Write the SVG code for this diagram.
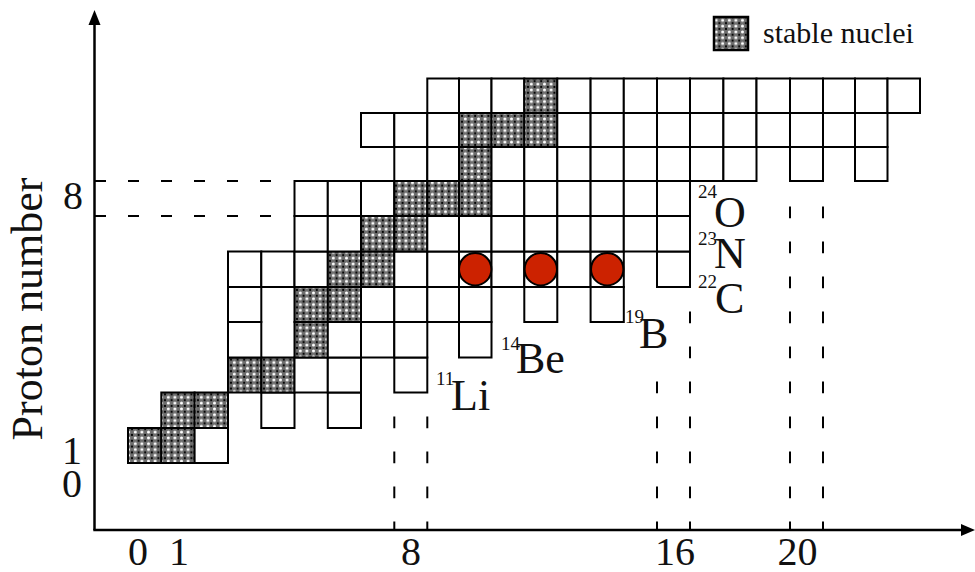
<svg xmlns="http://www.w3.org/2000/svg" width="975" height="572" viewBox="0 0 975 572">
<defs>
<pattern id="dots" patternUnits="userSpaceOnUse" width="6.6" height="5.8">
<rect width="6.6" height="5.8" fill="#6e6e6e"/>
<circle cx="3.3" cy="2.9" r="1.5" fill="#fff"/>
<circle cx="0" cy="0" r="1.1" fill="#000"/>
<circle cx="6.6" cy="0" r="1.1" fill="#000"/>
<circle cx="0" cy="5.8" r="1.1" fill="#000"/>
<circle cx="6.6" cy="5.8" r="1.1" fill="#000"/>
</pattern>
</defs>
<style>
.c{fill:#fff;stroke:#000;stroke-width:2}
.s{fill:url(#dots);stroke:#000;stroke-width:2}
.ax{stroke:#000;stroke-width:2.5;fill:none}
.hd{stroke:#000;stroke-width:2;fill:none;stroke-dasharray:11 22}
.vd{stroke:#000;stroke-width:2;fill:none;stroke-dasharray:11.7 23.3;stroke-dashoffset:3.3}
.dot{fill:#cc2200;stroke:#000;stroke-width:2}
text{font-family:"Liberation Serif","Times New Roman",serif;fill:#111}
.num{font-size:40px;text-anchor:middle}
.sym{font-size:44px}
.sup{font-size:19px}
</style>
<rect width="975" height="572" fill="#fff"/>

<g id="connectors">
<path class="ax" d="M94.5 530 V22"/>
<polygon points="94.5,10 88.5,25 100.5,25" fill="#000"/>
<path class="ax" d="M93.3 530 H964"/>
<polygon points="975,530 961,524 961,536" fill="#000"/>
<path class="hd" d="M95 181 H272"/>
<path class="hd" d="M95 216 H272"/>
<path class="vd" d="M394.3 530 V416.5"/>
<path class="vd" d="M427.3 530 V416.5"/>
<path class="vd" d="M657 530 V381.5"/>
<path class="vd" d="M690 530 V311.5"/>
<path class="vd" d="M790 530 V206.5"/>
<path class="vd" d="M823 530 V206.5"/>
</g>

<g id="row-Z1">
<rect class="s" x="128" y="428" width="33.3" height="35"/>
<rect class="s" x="161.3" y="428" width="33.3" height="35"/>
<rect class="c" x="194.6" y="428" width="33.4" height="35"/>
</g>
<g id="row-Z2">
<rect class="s" x="161.3" y="392.5" width="33.3" height="35.5"/>
<rect class="s" x="194.6" y="392.5" width="33.4" height="35.5"/>
<rect class="c" x="261.3" y="392.5" width="33.2" height="35.5"/>
<rect class="c" x="327.8" y="392.5" width="33.2" height="35.5"/>
</g>
<g id="row-Z3">
<rect class="s" x="228" y="357.5" width="33.3" height="35"/>
<rect class="s" x="261.3" y="357.5" width="33.2" height="35"/>
<rect class="c" x="294.5" y="357.5" width="33.3" height="35"/>
<rect class="c" x="327.8" y="357.5" width="33.2" height="35"/>
<rect class="c" x="394.3" y="357.5" width="33" height="35"/>
</g>
<g id="row-Z4">
<rect class="c" x="228" y="322" width="33.3" height="35.5"/>
<rect class="s" x="294.5" y="322" width="33.3" height="35.5"/>
<rect class="c" x="327.8" y="322" width="33.2" height="35.5"/>
<rect class="c" x="361" y="322" width="33.3" height="35.5"/>
<rect class="c" x="394.3" y="322" width="33" height="35.5"/>
<rect class="c" x="459" y="322" width="32.5" height="35.5"/>
</g>
<g id="row-Z5">
<rect class="c" x="228" y="287" width="33.3" height="35"/>
<rect class="s" x="294.5" y="287" width="33.3" height="35"/>
<rect class="s" x="327.8" y="287" width="33.2" height="35"/>
<rect class="c" x="361" y="287" width="33.3" height="35"/>
<rect class="c" x="394.3" y="287" width="33" height="35"/>
<rect class="c" x="427.3" y="287" width="31.7" height="35"/>
<rect class="c" x="459" y="287" width="32.5" height="35"/>
<rect class="c" x="524.3" y="287" width="33" height="35"/>
<rect class="c" x="590.6" y="287" width="33.2" height="35"/>
</g>
<g id="row-Z6">
<rect class="c" x="228" y="251.5" width="33.3" height="35.5"/>
<rect class="c" x="261.3" y="251.5" width="33.2" height="35.5"/>
<rect class="c" x="294.5" y="251.5" width="33.3" height="35.5"/>
<rect class="s" x="327.8" y="251.5" width="33.2" height="35.5"/>
<rect class="s" x="361" y="251.5" width="33.3" height="35.5"/>
<rect class="c" x="394.3" y="251.5" width="33" height="35.5"/>
<rect class="c" x="427.3" y="251.5" width="31.7" height="35.5"/>
<rect class="c" x="459" y="251.5" width="32.5" height="35.5"/>
<rect class="c" x="491.5" y="251.5" width="32.8" height="35.5"/>
<rect class="c" x="524.3" y="251.5" width="33" height="35.5"/>
<rect class="c" x="557.3" y="251.5" width="33.3" height="35.5"/>
<rect class="c" x="590.6" y="251.5" width="33.2" height="35.5"/>
<rect class="c" x="657" y="251.5" width="33" height="35.5"/>
</g>
<g id="row-Z7">
<rect class="c" x="294.5" y="216" width="33.3" height="35.5"/>
<rect class="c" x="327.8" y="216" width="33.2" height="35.5"/>
<rect class="s" x="361" y="216" width="33.3" height="35.5"/>
<rect class="s" x="394.3" y="216" width="33" height="35.5"/>
<rect class="c" x="427.3" y="216" width="31.7" height="35.5"/>
<rect class="c" x="459" y="216" width="32.5" height="35.5"/>
<rect class="c" x="491.5" y="216" width="32.8" height="35.5"/>
<rect class="c" x="524.3" y="216" width="33" height="35.5"/>
<rect class="c" x="557.3" y="216" width="33.3" height="35.5"/>
<rect class="c" x="590.6" y="216" width="33.2" height="35.5"/>
<rect class="c" x="623.8" y="216" width="33.2" height="35.5"/>
<rect class="c" x="657" y="216" width="33" height="35.5"/>
</g>
<g id="row-Z8">
<rect class="c" x="294.5" y="181" width="33.3" height="35"/>
<rect class="c" x="327.8" y="181" width="33.2" height="35"/>
<rect class="c" x="361" y="181" width="33.3" height="35"/>
<rect class="s" x="394.3" y="181" width="33" height="35"/>
<rect class="s" x="427.3" y="181" width="31.7" height="35"/>
<rect class="s" x="459" y="181" width="32.5" height="35"/>
<rect class="c" x="491.5" y="181" width="32.8" height="35"/>
<rect class="c" x="524.3" y="181" width="33" height="35"/>
<rect class="c" x="557.3" y="181" width="33.3" height="35"/>
<rect class="c" x="590.6" y="181" width="33.2" height="35"/>
<rect class="c" x="623.8" y="181" width="33.2" height="35"/>
<rect class="c" x="657" y="181" width="33" height="35"/>
</g>
<g id="row-Z9">
<rect class="c" x="394.3" y="147" width="33" height="34"/>
<rect class="c" x="427.3" y="147" width="31.7" height="34"/>
<rect class="s" x="459" y="147" width="32.5" height="34"/>
<rect class="c" x="491.5" y="147" width="32.8" height="34"/>
<rect class="c" x="524.3" y="147" width="33" height="34"/>
<rect class="c" x="557.3" y="147" width="33.3" height="34"/>
<rect class="c" x="590.6" y="147" width="33.2" height="34"/>
<rect class="c" x="623.8" y="147" width="33.2" height="34"/>
<rect class="c" x="657" y="147" width="33" height="34"/>
<rect class="c" x="690" y="147" width="33.4" height="34"/>
<rect class="c" x="723.4" y="147" width="33.1" height="34"/>
<rect class="c" x="790" y="147" width="33" height="34"/>
<rect class="c" x="855" y="147" width="32.5" height="34"/>
</g>
<g id="row-Z10">
<rect class="c" x="361" y="113" width="33.3" height="34"/>
<rect class="c" x="394.3" y="113" width="33" height="34"/>
<rect class="c" x="427.3" y="113" width="31.7" height="34"/>
<rect class="s" x="459" y="113" width="32.5" height="34"/>
<rect class="s" x="491.5" y="113" width="32.8" height="34"/>
<rect class="s" x="524.3" y="113" width="33" height="34"/>
<rect class="c" x="557.3" y="113" width="33.3" height="34"/>
<rect class="c" x="590.6" y="113" width="33.2" height="34"/>
<rect class="c" x="623.8" y="113" width="33.2" height="34"/>
<rect class="c" x="657" y="113" width="33" height="34"/>
<rect class="c" x="690" y="113" width="33.4" height="34"/>
<rect class="c" x="723.4" y="113" width="33.1" height="34"/>
<rect class="c" x="756.5" y="113" width="33.5" height="34"/>
<rect class="c" x="790" y="113" width="33" height="34"/>
<rect class="c" x="823" y="113" width="32" height="34"/>
<rect class="c" x="855" y="113" width="32.5" height="34"/>
</g>
<g id="row-Z11">
<rect class="c" x="427.3" y="78.5" width="31.7" height="34.5"/>
<rect class="c" x="459" y="78.5" width="32.5" height="34.5"/>
<rect class="c" x="491.5" y="78.5" width="32.8" height="34.5"/>
<rect class="s" x="524.3" y="78.5" width="33" height="34.5"/>
<rect class="c" x="557.3" y="78.5" width="33.3" height="34.5"/>
<rect class="c" x="590.6" y="78.5" width="33.2" height="34.5"/>
<rect class="c" x="623.8" y="78.5" width="33.2" height="34.5"/>
<rect class="c" x="657" y="78.5" width="33" height="34.5"/>
<rect class="c" x="690" y="78.5" width="33.4" height="34.5"/>
<rect class="c" x="723.4" y="78.5" width="33.1" height="34.5"/>
<rect class="c" x="756.5" y="78.5" width="33.5" height="34.5"/>
<rect class="c" x="790" y="78.5" width="33" height="34.5"/>
<rect class="c" x="823" y="78.5" width="32" height="34.5"/>
<rect class="c" x="855" y="78.5" width="32.5" height="34.5"/>
<rect class="c" x="887.5" y="78.5" width="32.5" height="34.5"/>
</g>

<g id="markers">
<circle class="dot" cx="475.2" cy="269.2" r="16.2"/>
<circle class="dot" cx="540.8" cy="269.2" r="16.2"/>
<circle class="dot" cx="607.2" cy="269.2" r="16.2"/>
</g>

<g id="legend">
<rect class="s" x="714" y="17" width="34" height="33" style="stroke-width:2.5"/>
<text x="763" y="43" style="font-size:30px">stable nuclei</text>
</g>

<g id="label-Li11"><text class="sup" x="436" y="385">11</text><text class="sym" x="451" y="410">Li</text></g>
<g id="label-Be14"><text class="sup" x="501" y="350">14</text><text class="sym" x="516" y="373">Be</text></g>
<g id="label-B19"><text class="sup" x="625" y="323">19</text><text class="sym" x="639" y="348">B</text></g>
<g id="label-C22"><text class="sup" x="698" y="288">22</text><text class="sym" x="715" y="313">C</text></g>
<g id="label-N23"><text class="sup" x="698" y="245">23</text><text class="sym" x="714" y="268">N</text></g>
<g id="label-O24"><text class="sup" x="698" y="198">24</text><text class="sym" x="714" y="227">O</text></g>

<g id="y-axis-labels">
<text transform="translate(42,309) rotate(-90)" style="font-size:44px;text-anchor:middle">Proton number</text>
<text class="num" x="73" y="209">8</text>
<text class="num" x="72" y="464">1</text>
<text class="num" x="72" y="497">0</text>
</g>
<g id="x-axis-labels">
<text class="num" x="138" y="565">0</text>
<text class="num" x="179" y="565">1</text>
<text class="num" x="411" y="565">8</text>
<text class="num" x="675" y="565">16</text>
<text class="num" x="797.5" y="565">20</text>
</g>
</svg>
